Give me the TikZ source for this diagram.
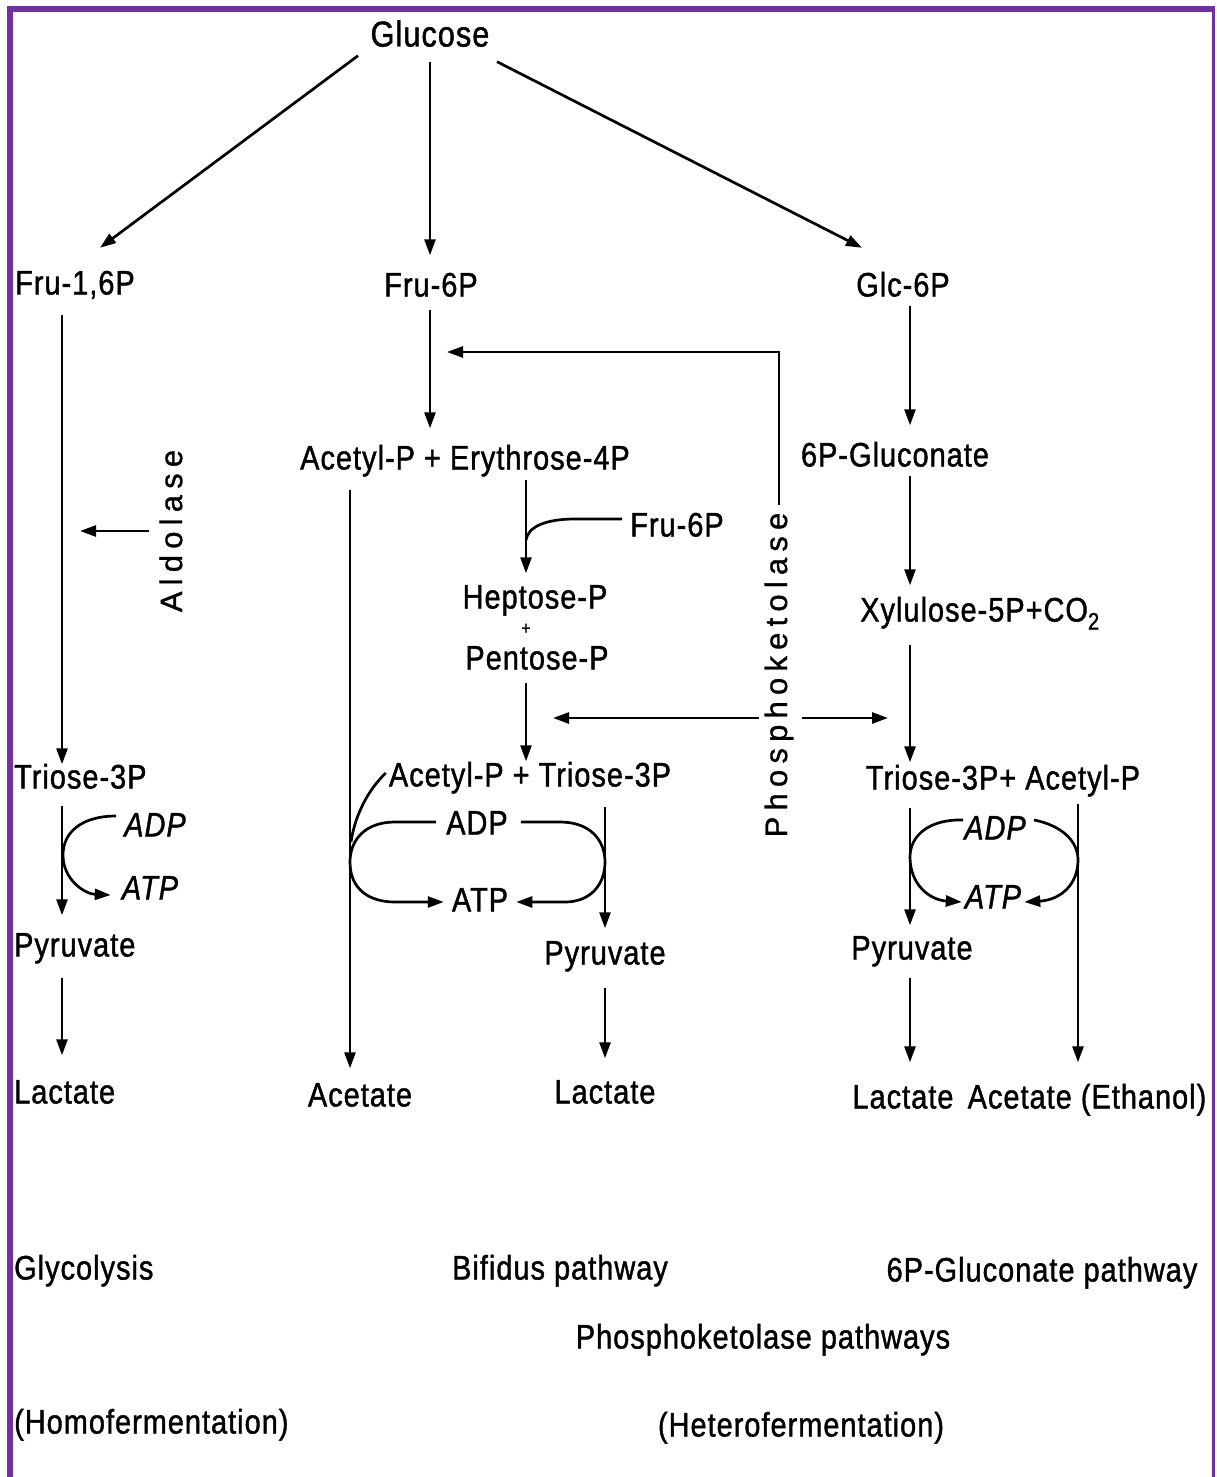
\documentclass[tikz,border=0pt]{standalone}
\usepackage{fontspec}
\setmainfont[FakeStretch=0.85,LetterSpace=3,FakeBold=1.2]{Liberation Sans}
\newfontfamily\rotfont[LetterSpace=20,FakeBold=1]{Liberation Sans}
\usetikzlibrary{arrows.meta}
\definecolor{framepurple}{RGB}{112,48,160}
\tikzset{
 lbl/.style={inner sep=0pt, text height=24pt, text depth=7pt, font=\fontsize{34}{40}\selectfont},
 ilbl/.style={inner sep=0pt, text height=24pt, text depth=7pt, font=\fontsize{34}{40}\selectfont\itshape},
 rlbl/.style={inner sep=0pt, font=\fontsize{31}{36}\selectfont\rotfont, rotate=90},
 conn/.style={line width=2.7pt},
 arr/.style={conn, -{Triangle[length=16pt,width=11pt]}},
}
\begin{document}
\begin{tikzpicture}[x=1pt,y=-1pt]
\useasboundingbox (0,0) rectangle (1216,1477);
\fill[white] (0,0) rectangle (1216,1477);
% column x positions
\coordinate (xL) at (62,0);
\coordinate (xC) at (430,0);
\coordinate (xM1) at (350,0);
\coordinate (xM2) at (526,0);
\coordinate (xM3) at (605,0);
\coordinate (xR1) at (910,0);
\coordinate (xR2) at (1078,0);
\coordinate (hy) at (0,718);
\coordinate (hy2) at (0,352);

% nodes
\node[lbl, font=\fontsize{36}{42}\selectfont] (gluc) at (430,38) {Glucose};
\node[lbl, anchor=west] (fru16) at (15,286) {Fru-1,6P};
\node[lbl] (fru6) at (431,288) {Fru-6P};
\node[lbl] (glc6) at (903,288) {Glc-6P};

\node[rlbl] (ald) at (171,531) {Aldolase};
\node[lbl, anchor=west] (triL) at (14,780) {Triose-3P};
\node[ilbl] (adpL) at (155,828) {ADP};
\node[ilbl] (atpL) at (150,891) {ATP};
\node[lbl, anchor=west] (pyrL) at (14,948) {Pyruvate};
\node[lbl, anchor=west] (lacL) at (14,1095) {Lactate};

\node[lbl] (ae4) at (465,461) {Acetyl-P + Erythrose-4P};
\node[lbl] (fru6b) at (677,528) {Fru-6P};
\node[lbl] (hep) at (535,600) {Heptose-P};
\node[inner sep=0pt, font=\fontsize{18}{20}\selectfont] (plus1) at (526,629) {+};
\node[lbl] (pen) at (537,661) {Pentose-P};
\node[lbl] (at3) at (530,778) {Acetyl-P + Triose-3P};
\node[lbl] (adpM) at (477,826) {ADP};
\node[lbl] (atpM) at (480,903) {ATP};
\node[lbl] (pyrM) at (605,956) {Pyruvate};
\node[lbl] (lacM) at (605,1095) {Lactate};
\node[lbl] (acM) at (360,1098) {Acetate};

\node[rlbl] (phk) at (779,675) {Phosphoketolase};

\node[lbl] (glucon) at (895,458) {6P-Gluconate};
\node[lbl] (xyl) at (980,613) {Xylulose-5P+CO\textsubscript{2}};
\node[lbl] (t3aR) at (1003,781) {Triose-3P+ Acetyl-P};
\node[ilbl] (adpR) at (995,831) {ADP};
\node[ilbl] (atpR) at (993,900) {ATP};
\node[lbl] (pyrR) at (912,951) {Pyruvate};
\node[lbl] (lacR) at (903,1100) {Lactate};
\node[lbl] (aceR) at (1087,1100) {Acetate (Ethanol)};

\node[lbl, anchor=west] (glyc) at (14,1271) {Glycolysis};
\node[lbl] (bif) at (560,1271) {Bifidus pathway};
\node[lbl] (gpp) at (1042,1273) {6P-Gluconate pathway};
\node[lbl] (pkp) at (763,1340) {Phosphoketolase pathways};
\node[lbl, anchor=west] (homo) at (14,1425) {(Homofermentation)};
\node[lbl] (hetero) at (801,1428) {(Heterofermentation)};

% glucose arrows
\draw[arr] ([shift={(-72,2)}]gluc.south) -- ([shift={(25,-22.5)}]fru16.north);
\draw[arr, shorten <=8pt, shorten >=17pt] (gluc.south -| xC) -- (fru6.north -| xC);
\draw[arr] ([shift={(67,8)}]gluc.south) -- ([shift={(-41,-24.5)}]glc6.north);

% left column
\draw[arr, shorten <=13pt] (fru16.south -| xL) -- (triL.north -| xL);
\draw[arr, shorten >=18pt] ([xshift=-22pt]ald.center) -- (ald -| xL);
\draw[arr, shorten <=10pt, shorten >=17pt] (triL.south -| xL) -- (pyrL.north -| xL);
\draw[arr, shorten <=14pt, shorten >=24pt] (pyrL.south -| xL) -- (lacL.north -| xL);
\draw[arr] ([shift={(-8,-12)}]adpL.west) .. controls (82,816) and (63,832) .. (63,855) .. controls (63,880) and (85,894) .. ([shift={(-11,4)}]atpL.west);

% middle column
\draw[arr, shorten <=6pt, shorten >=17pt] (fru6.south -| xC) -- (ae4.north -| xC);
\draw[arr, shorten <=7pt, shorten >=17pt] (phk.east) |- (hy2 -| xC);
\draw[arr, shorten <=13pt, shorten >=14pt] (ae4.south -| xM1) -- (acM.north -| xM1);
\draw[arr, shorten <=3pt, shorten >=11pt] (ae4.south -| xM2) -- (hep.north -| xM2);
\draw[conn] ([shift={(-8,-9)}]fru6b.west) -- (575,519) .. controls (545,519) and (528,527) .. (526,540);
\draw[arr, shorten <=6pt, shorten >=1pt] (pen.south -| xM2) -- (at3.north -| xM2);
\draw[arr, shorten <=20pt, shorten >=27pt] (phk |- hy) -- (hy -| xM2);
\draw[arr, shorten <=23pt, shorten >=22pt] (phk |- hy) -- (hy -| xR1);
\draw[conn] ([shift={(-3,-5)}]at3.west) .. controls (368,790) and (355,815) .. (351,842);
\draw[arr, shorten <=13pt, shorten >=12pt] (at3.south -| xM3) -- (pyrM.north -| xM3);
\draw[arr, shorten <=16pt, shorten >=21pt] (pyrM.south -| xM3) -- (lacM.north -| xM3);
\draw[arr] ([shift={(-10,-4)}]adpM.west) -- (395,822) .. controls (365,822) and (350,840) .. (350,862) .. controls (350,890) and (370,902) .. (395,902) -- ([shift={(-8,-1)}]atpM.west);
\draw[arr] ([shift={(13,-4)}]adpM.east) -- (560,822) .. controls (590,822) and (605,840) .. (605,862) .. controls (605,885) and (590,902) .. (565,902) -- ([shift={(8,-1)}]atpM.east);

% right column
\draw[arr, shorten <=2pt, shorten >=17pt] (glc6.south -| xR1) -- (glucon.north -| xR1);
\draw[arr, shorten <=2pt, shorten >=12pt] (glucon.south -| xR1) -- (xyl.north -| xR1);
\draw[arr, shorten <=16pt, shorten >=3pt] (xyl.south -| xR1) -- (t3aR.north -| xR1);
\draw[arr, shorten <=11pt, shorten >=10pt] (t3aR.south -| xR1) -- (pyrR.north -| xR1);
\draw[arr, shorten <=7pt, shorten >=22pt] (t3aR.south -| xR2) -- (aceR.north -| xR2);
\draw[arr, shorten <=11pt, shorten >=22pt] (pyrR.south -| xR1) -- (lacR.north -| xR1);
\draw[arr] ([shift={(-1,-11)}]adpR.west) .. controls (930,819) and (910,835) .. (910,857) .. controls (910,885) and (930,900) .. ([shift={(-3,2)}]atpR.west);
\draw[arr] ([shift={(8,-11)}]adpR.east) .. controls (1060,825) and (1078,840) .. (1078,860) .. controls (1078,885) and (1060,900) .. ([shift={(3,2)}]atpR.east);

% frame
\draw[framepurple, line width=6pt] (9.5,1477) -- (9.5,9) -- (1213.5,9);
\draw[framepurple, line width=3pt] (1213.5,6) -- (1213.5,1477);
\end{tikzpicture}
\end{document}
